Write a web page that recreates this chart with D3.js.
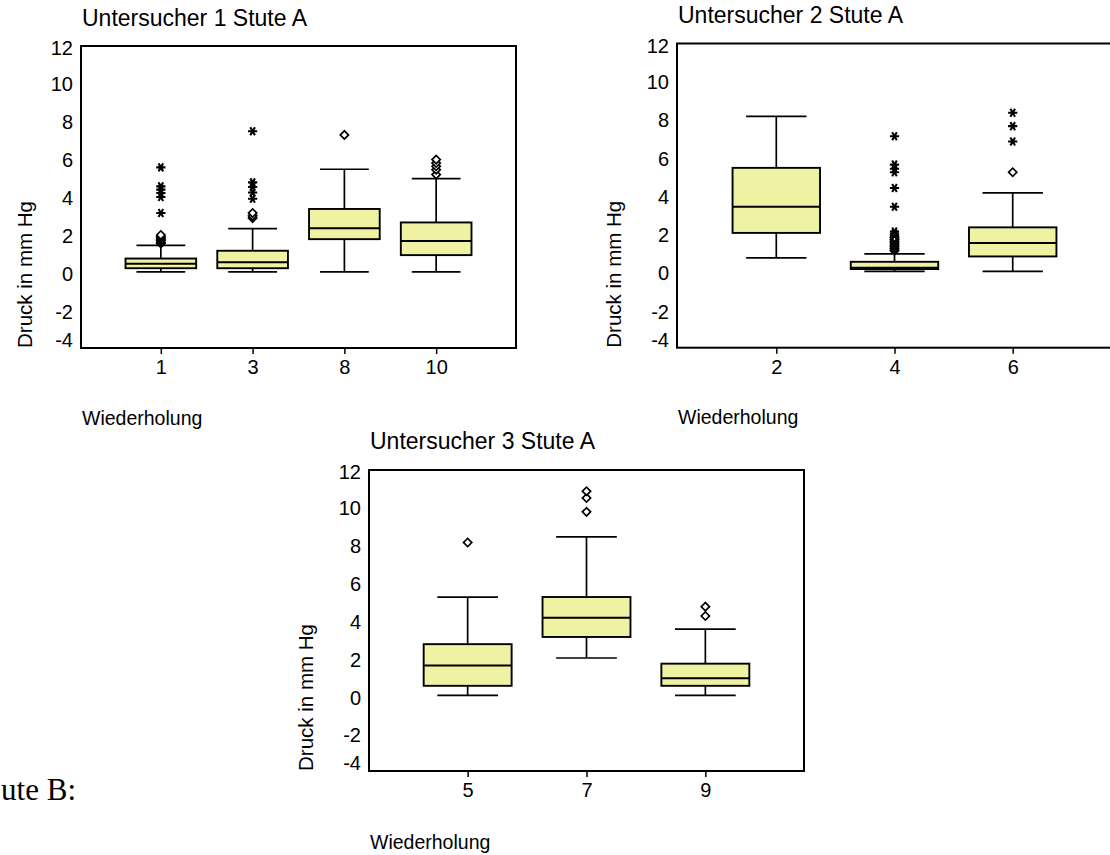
<!DOCTYPE html>
<html>
<head>
<meta charset="utf-8">
<script src="https://cdn.jsdelivr.net/npm/d3@7"></script>
<style>
  html, body { margin: 0; padding: 0; background: #fff; }
  svg { display: block; }
  text { font-family: "Liberation Sans", Arial, sans-serif; fill: #000; }
</style>
</head>
<body>
<svg id="chart" width="1110" height="855"></svg>
<script>
// ---------- DATA ----------
const yTicks = [-4, -2, 0, 2, 4, 6, 8, 10, 12];
const yDomain = [-3.85, 12.05];

// Panel 1: Untersucher 1 Stute A
const p1Title = "Untersucher 1 Stute A";
const p1Categories = ["1", "3", "8", "10"];
const p1Stats = [   // [lowWhisker, Q1, median, Q3, highWhisker]
  [0.16, 0.35, 0.58, 0.86, 1.55],
  [0.16, 0.35, 0.67, 1.27, 2.44],
  [0.16, 1.88, 2.46, 3.47, 5.56],
  [0.16, 1.04, 1.78, 2.76, 5.07]
];
const p1Circles = [
  [1.65, 1.72, 1.80, 1.87, 1.94, 2.02, 2.10],
  [2.99, 3.11, 3.26],
  [7.37],
  [5.28, 5.54, 5.72, 5.89, 6.07]
];
const p1Stars = [
  [3.26, 4.10, 4.31, 4.49, 4.66, 5.66],
  [4.01, 4.34, 4.63, 4.87, 7.56],
  [],
  []
];

// Panel 2: Untersucher 2 Stute A
const p2Title = "Untersucher 2 Stute A";
const p2Categories = ["2", "4", "6"];
const p2Stats = [
  [0.84, 2.15, 3.52, 5.55, 8.24],
  [0.14, 0.26, 0.33, 0.64, 1.05],
  [0.14, 0.92, 1.62, 2.44, 4.24]
];
const p2Circles = [
  [],
  [1.22, 1.32, 1.42, 1.52, 1.62, 1.72, 1.82, 1.92],
  [5.32]
];
const p2Stars = [
  [],
  [2.02, 2.12, 2.22, 3.52, 4.50, 5.32, 5.50, 5.72, 7.20],
  [6.93, 7.73, 8.43]
];

// Panel 3: Untersucher 3 Stute A
const p3Title = "Untersucher 3 Stute A";
const p3Categories = ["5", "7", "9"];
const p3Stats = [
  [0.14, 0.65, 1.72, 2.85, 5.34],
  [2.12, 3.23, 4.25, 5.34, 8.52],
  [0.14, 0.65, 1.05, 1.82, 3.64]
];
const p3Circles = [
  [8.22],
  [9.84, 10.57, 10.93],
  [4.34, 4.83]
];
const p3Stars = [[], [], []];

const xTitle = "Wiederholung";
const yTitle = "Druck in mm Hg";
const pageText = "ute B:";   // visible part of "Stute B:" in the cropped page

// ---------- LAYOUT / STYLE ----------
const boxFill = "#f0f2a3";
const panels = [
  { title: p1Title, cats: p1Categories, stats: p1Stats, circles: p1Circles, stars: p1Stars,
    x0: 81, x1: 516, y0: 46, y1: 348, pad: 0.87, boxFrac: 0.77,
    titleX: 82, titleY: 26, yLabX: 32, xLabX: 82, xLabY: 425 },
  { title: p2Title, cats: p2Categories, stats: p2Stats, circles: p2Circles, stars: p2Stars,
    x0: 677, x1: 1112, y0: 43.5, y1: 347.7, pad: 0.84, boxFrac: 0.74,
    titleX: 678, titleY: 23, yLabX: 621, xLabX: 678, xLabY: 424 },
  { title: p3Title, cats: p3Categories, stats: p3Stats, circles: p3Circles, stars: p3Stars,
    x0: 369, x1: 804, y0: 470, y1: 771, pad: 0.83, boxFrac: 0.74,
    titleX: 370, titleY: 449, yLabX: 313, xLabX: 370, xLabY: 849 }
];

const svg = d3.select("#chart");

// Page text (document fragment on the left)
svg.append("text")
  .attr("x", 76).attr("y", 800)
  .attr("text-anchor", "end")
  .style("font-family", '"Liberation Serif", "Times New Roman", serif')
  .style("font-size", "31px")
  .text(pageText);

const diamond = d3.symbol().type(d3.symbolSquare).size(34)();
const star = d3.symbol().type(d3.symbolAsterisk).size(60)();

panels.forEach(p => {
  const g = svg.append("g");
  const x = d3.scalePoint().domain(p.cats).range([p.x0, p.x1]).padding(p.pad);
  const y = d3.scaleLinear().domain(yDomain).range([p.y1, p.y0]);
  const bw = x.step() * p.boxFrac;
  const cw = bw * 0.69;

  // title
  g.append("text").attr("x", p.titleX).attr("y", p.titleY)
    .style("font-size", "23px").text(p.title);

  // y axis
  const ya = g.append("g").attr("transform", `translate(${p.x0},0)`)
    .call(d3.axisLeft(y).tickValues(yTicks).tickSize(0).tickPadding(8).tickFormat(d => String(d)));
  ya.select(".domain").remove();
  ya.selectAll(".tick")
    .attr("transform", d => `translate(0,${Math.min(Math.max(y(d), p.y0 + 3), p.y1 - 7)})`);
  ya.selectAll("text").style("font-size", "20px").style("font-family", '"Liberation Sans", Arial, sans-serif').attr("fill", "#000");

  // x axis
  const xa = g.append("g").attr("transform", `translate(0,${p.y1})`)
    .call(d3.axisBottom(x).tickSizeInner(6).tickSizeOuter(0).tickPadding(6));
  xa.select(".domain").remove();
  xa.selectAll("line").attr("stroke", "#000").attr("stroke-width", 1.5);
  xa.selectAll("text").style("font-size", "20px").style("font-family", '"Liberation Sans", Arial, sans-serif').attr("fill", "#000");

  // frame
  g.append("rect").attr("x", p.x0).attr("y", p.y0)
    .attr("width", p.x1 - p.x0).attr("height", p.y1 - p.y0)
    .attr("fill", "none").attr("stroke", "#000").attr("stroke-width", 2);

  // y title
  g.append("text")
    .attr("transform", `translate(${p.yLabX},${p.y1}) rotate(-90)`)
    .attr("text-anchor", "start")
    .style("font-size", "20.5px").text(yTitle);

  // x title
  g.append("text").attr("x", p.xLabX).attr("y", p.xLabY)
    .style("font-size", "19.5px").text(xTitle);

  // boxes
  const bx = g.selectAll(".bx").data(p.stats).join("g").attr("class", "bx");
  bx.each(function(s, i) {
    const gg = d3.select(this);
    const cx = x(p.cats[i]);
    gg.append("line").attr("x1", cx).attr("x2", cx).attr("y1", y(s[0])).attr("y2", y(s[1]))
      .attr("stroke", "#000").attr("stroke-width", 1.7);
    gg.append("line").attr("x1", cx).attr("x2", cx).attr("y1", y(s[3])).attr("y2", y(s[4]))
      .attr("stroke", "#000").attr("stroke-width", 1.7);
    [s[0], s[4]].forEach(v => {
      gg.append("line").attr("x1", cx - cw / 2).attr("x2", cx + cw / 2)
        .attr("y1", y(v)).attr("y2", y(v)).attr("stroke", "#000").attr("stroke-width", 1.7);
    });
    gg.append("rect").attr("x", cx - bw / 2).attr("y", y(s[3]))
      .attr("width", bw).attr("height", y(s[1]) - y(s[3]))
      .attr("fill", boxFill).attr("stroke", "#000").attr("stroke-width", 1.9);
    gg.append("line").attr("x1", cx - bw / 2).attr("x2", cx + bw / 2)
      .attr("y1", y(s[2])).attr("y2", y(s[2])).attr("stroke", "#000").attr("stroke-width", 2);

    gg.selectAll(".c").data(p.circles[i]).join("path").attr("class", "c")
      .attr("d", diamond)
      .attr("transform", v => `translate(${cx},${y(v)}) rotate(45)`)
      .attr("fill", "#fff").attr("stroke", "#000").attr("stroke-width", 1.7);
    gg.selectAll(".s").data(p.stars[i]).join("path").attr("class", "s")
      .attr("d", star)
      .attr("transform", v => `translate(${cx},${y(v)}) rotate(90)`)
      .attr("fill", "none").attr("stroke", "#000").attr("stroke-width", 2.1);
  });
});
</script>
</body>
</html>
